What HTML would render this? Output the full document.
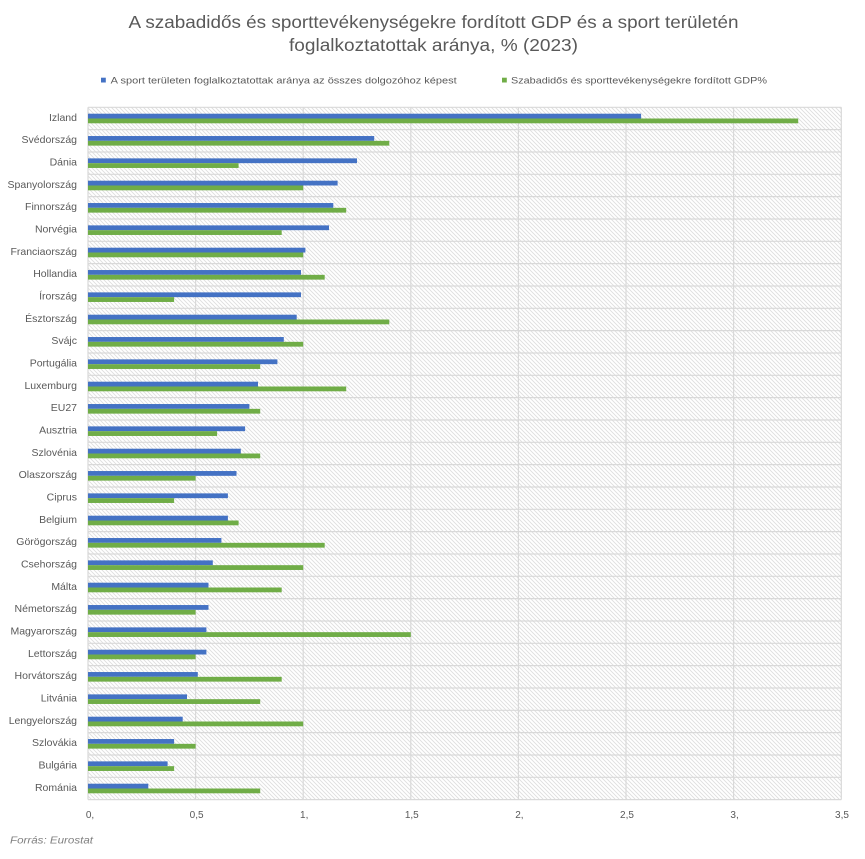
<!DOCTYPE html>
<html>
<head>
<meta charset="utf-8">
<style>
html,body{margin:0;padding:0;background:#fff;}
svg{display:block;}
text{font-family:"Liberation Sans",sans-serif;}
</style>
</head>
<body>
<svg width="865" height="859" viewBox="0 0 865 859" xmlns="http://www.w3.org/2000/svg">
<defs>
<pattern id="hatch" patternUnits="userSpaceOnUse" width="4" height="4">
<path d="M-1,-1 L5,5 M-1,3 L1,5 M3,-1 L5,1" stroke="#dedede" stroke-width="0.9"/>
</pattern>
</defs>
<rect width="865" height="859" fill="#fff"/>
<!-- Title -->
<text x="433.5" y="28" font-size="17.5" fill="#595959" text-anchor="middle" textLength="610" lengthAdjust="spacingAndGlyphs">A szabadidős és sporttevékenységekre fordított GDP és a sport területén</text>
<text x="433.5" y="51" font-size="17.5" fill="#595959" text-anchor="middle" textLength="289" lengthAdjust="spacingAndGlyphs">foglalkoztatottak aránya, % (2023)</text>
<!-- Legend -->
<rect x="101" y="77.7" width="4.8" height="4.8" fill="#4472C4"/>
<text x="110.7" y="83.5" font-size="9.3" fill="#595959" textLength="346" lengthAdjust="spacingAndGlyphs">A sport területen foglalkoztatottak aránya az összes dolgozóhoz képest</text>
<rect x="502" y="77.7" width="4.8" height="4.8" fill="#70AD47"/>
<text x="511" y="83.5" font-size="9.3" fill="#595959" textLength="256" lengthAdjust="spacingAndGlyphs">Szabadidős és sporttevékenységekre fordított GDP%</text>
<!-- Plot background -->
<rect x="88" y="107.3" width="753.3" height="692.3" fill="url(#hatch)"/>
<!-- vertical gridlines -->
<g stroke="#d9d9d9" stroke-width="1.2">
<line x1="88" y1="107.3" x2="88" y2="799.6"/>
<line x1="195.6" y1="107.3" x2="195.6" y2="799.6"/>
<line x1="303.2" y1="107.3" x2="303.2" y2="799.6"/>
<line x1="410.8" y1="107.3" x2="410.8" y2="799.6"/>
<line x1="518.4" y1="107.3" x2="518.4" y2="799.6"/>
<line x1="626" y1="107.3" x2="626" y2="799.6"/>
<line x1="733.6" y1="107.3" x2="733.6" y2="799.6"/>
<line x1="841.3" y1="107.3" x2="841.3" y2="799.6"/>
</g>
<!-- horizontal gridlines -->
<g stroke="#d9d9d9" stroke-width="1.2">
<line x1="88" x2="841.3" y1="107.3" y2="107.3"/>
<line x1="88" x2="841.3" y1="129.63" y2="129.63"/>
<line x1="88" x2="841.3" y1="151.97" y2="151.97"/>
<line x1="88" x2="841.3" y1="174.3" y2="174.3"/>
<line x1="88" x2="841.3" y1="196.63" y2="196.63"/>
<line x1="88" x2="841.3" y1="218.97" y2="218.97"/>
<line x1="88" x2="841.3" y1="241.3" y2="241.3"/>
<line x1="88" x2="841.3" y1="263.63" y2="263.63"/>
<line x1="88" x2="841.3" y1="285.97" y2="285.97"/>
<line x1="88" x2="841.3" y1="308.3" y2="308.3"/>
<line x1="88" x2="841.3" y1="330.63" y2="330.63"/>
<line x1="88" x2="841.3" y1="352.97" y2="352.97"/>
<line x1="88" x2="841.3" y1="375.3" y2="375.3"/>
<line x1="88" x2="841.3" y1="397.63" y2="397.63"/>
<line x1="88" x2="841.3" y1="419.97" y2="419.97"/>
<line x1="88" x2="841.3" y1="442.3" y2="442.3"/>
<line x1="88" x2="841.3" y1="464.63" y2="464.63"/>
<line x1="88" x2="841.3" y1="486.97" y2="486.97"/>
<line x1="88" x2="841.3" y1="509.3" y2="509.3"/>
<line x1="88" x2="841.3" y1="531.63" y2="531.63"/>
<line x1="88" x2="841.3" y1="553.97" y2="553.97"/>
<line x1="88" x2="841.3" y1="576.3" y2="576.3"/>
<line x1="88" x2="841.3" y1="598.63" y2="598.63"/>
<line x1="88" x2="841.3" y1="620.97" y2="620.97"/>
<line x1="88" x2="841.3" y1="643.3" y2="643.3"/>
<line x1="88" x2="841.3" y1="665.63" y2="665.63"/>
<line x1="88" x2="841.3" y1="687.97" y2="687.97"/>
<line x1="88" x2="841.3" y1="710.3" y2="710.3"/>
<line x1="88" x2="841.3" y1="732.63" y2="732.63"/>
<line x1="88" x2="841.3" y1="754.97" y2="754.97"/>
<line x1="88" x2="841.3" y1="777.3" y2="777.3"/>
<line x1="88" x2="841.3" y1="799.6" y2="799.6"/>
</g>
<!-- rows -->
<g font-size="10.5" fill="#595959" text-anchor="end">
<g transform="translate(0,107.3)"><text x="77" y="13.5">Izland</text><rect x="88" y="6.4" width="553.1" height="4.8" fill="#4472C4"/><rect x="88" y="11.2" width="710.2" height="4.8" fill="#70AD47"/></g>
<g transform="translate(0,129.63)"><text x="77" y="13.5">Svédország</text><rect x="88" y="6.4" width="286.2" height="4.8" fill="#4472C4"/><rect x="88" y="11.2" width="301.3" height="4.8" fill="#70AD47"/></g>
<g transform="translate(0,151.97)"><text x="77" y="13.5">Dánia</text><rect x="88" y="6.4" width="269" height="4.8" fill="#4472C4"/><rect x="88" y="11.2" width="150.6" height="4.8" fill="#70AD47"/></g>
<g transform="translate(0,174.3)"><text x="77" y="13.5">Spanyolország</text><rect x="88" y="6.4" width="249.6" height="4.8" fill="#4472C4"/><rect x="88" y="11.2" width="215.2" height="4.8" fill="#70AD47"/></g>
<g transform="translate(0,196.63)"><text x="77" y="13.5">Finnország</text><rect x="88" y="6.4" width="245.3" height="4.8" fill="#4472C4"/><rect x="88" y="11.2" width="258.2" height="4.8" fill="#70AD47"/></g>
<g transform="translate(0,218.97)"><text x="77" y="13.5">Norvégia</text><rect x="88" y="6.4" width="241" height="4.8" fill="#4472C4"/><rect x="88" y="11.2" width="193.7" height="4.8" fill="#70AD47"/></g>
<g transform="translate(0,241.3)"><text x="77" y="13.5">Franciaország</text><rect x="88" y="6.4" width="217.4" height="4.8" fill="#4472C4"/><rect x="88" y="11.2" width="215.2" height="4.8" fill="#70AD47"/></g>
<g transform="translate(0,263.63)"><text x="77" y="13.5">Hollandia</text><rect x="88" y="6.4" width="213" height="4.8" fill="#4472C4"/><rect x="88" y="11.2" width="236.7" height="4.8" fill="#70AD47"/></g>
<g transform="translate(0,285.97)"><text x="77" y="13.5">Írország</text><rect x="88" y="6.4" width="213" height="4.8" fill="#4472C4"/><rect x="88" y="11.2" width="86.1" height="4.8" fill="#70AD47"/></g>
<g transform="translate(0,308.3)"><text x="77" y="13.5">Észtország</text><rect x="88" y="6.4" width="208.7" height="4.8" fill="#4472C4"/><rect x="88" y="11.2" width="301.3" height="4.8" fill="#70AD47"/></g>
<g transform="translate(0,330.63)"><text x="77" y="13.5">Svájc</text><rect x="88" y="6.4" width="195.8" height="4.8" fill="#4472C4"/><rect x="88" y="11.2" width="215.2" height="4.8" fill="#70AD47"/></g>
<g transform="translate(0,352.97)"><text x="77" y="13.5">Portugália</text><rect x="88" y="6.4" width="189.4" height="4.8" fill="#4472C4"/><rect x="88" y="11.2" width="172.2" height="4.8" fill="#70AD47"/></g>
<g transform="translate(0,375.3)"><text x="77" y="13.5">Luxemburg</text><rect x="88" y="6.4" width="170" height="4.8" fill="#4472C4"/><rect x="88" y="11.2" width="258.2" height="4.8" fill="#70AD47"/></g>
<g transform="translate(0,397.63)"><text x="77" y="13.5">EU27</text><rect x="88" y="6.4" width="161.4" height="4.8" fill="#4472C4"/><rect x="88" y="11.2" width="172.2" height="4.8" fill="#70AD47"/></g>
<g transform="translate(0,419.97)"><text x="77" y="13.5">Ausztria</text><rect x="88" y="6.4" width="157.1" height="4.8" fill="#4472C4"/><rect x="88" y="11.2" width="129.1" height="4.8" fill="#70AD47"/></g>
<g transform="translate(0,442.3)"><text x="77" y="13.5">Szlovénia</text><rect x="88" y="6.4" width="152.8" height="4.8" fill="#4472C4"/><rect x="88" y="11.2" width="172.2" height="4.8" fill="#70AD47"/></g>
<g transform="translate(0,464.63)"><text x="77" y="13.5">Olaszország</text><rect x="88" y="6.4" width="148.5" height="4.8" fill="#4472C4"/><rect x="88" y="11.2" width="107.6" height="4.8" fill="#70AD47"/></g>
<g transform="translate(0,486.97)"><text x="77" y="13.5">Ciprus</text><rect x="88" y="6.4" width="139.9" height="4.8" fill="#4472C4"/><rect x="88" y="11.2" width="86.1" height="4.8" fill="#70AD47"/></g>
<g transform="translate(0,509.3)"><text x="77" y="13.5">Belgium</text><rect x="88" y="6.4" width="139.9" height="4.8" fill="#4472C4"/><rect x="88" y="11.2" width="150.6" height="4.8" fill="#70AD47"/></g>
<g transform="translate(0,531.63)"><text x="77" y="13.5">Görögország</text><rect x="88" y="6.4" width="133.4" height="4.8" fill="#4472C4"/><rect x="88" y="11.2" width="236.7" height="4.8" fill="#70AD47"/></g>
<g transform="translate(0,553.97)"><text x="77" y="13.5">Csehország</text><rect x="88" y="6.4" width="124.8" height="4.8" fill="#4472C4"/><rect x="88" y="11.2" width="215.2" height="4.8" fill="#70AD47"/></g>
<g transform="translate(0,576.3)"><text x="77" y="13.5">Málta</text><rect x="88" y="6.4" width="120.5" height="4.8" fill="#4472C4"/><rect x="88" y="11.2" width="193.7" height="4.8" fill="#70AD47"/></g>
<g transform="translate(0,598.63)"><text x="77" y="13.5">Németország</text><rect x="88" y="6.4" width="120.5" height="4.8" fill="#4472C4"/><rect x="88" y="11.2" width="107.6" height="4.8" fill="#70AD47"/></g>
<g transform="translate(0,620.97)"><text x="77" y="13.5">Magyarország</text><rect x="88" y="6.4" width="118.4" height="4.8" fill="#4472C4"/><rect x="88" y="11.2" width="322.8" height="4.8" fill="#70AD47"/></g>
<g transform="translate(0,643.3)"><text x="77" y="13.5">Lettország</text><rect x="88" y="6.4" width="118.4" height="4.8" fill="#4472C4"/><rect x="88" y="11.2" width="107.6" height="4.8" fill="#70AD47"/></g>
<g transform="translate(0,665.63)"><text x="77" y="13.5">Horvátország</text><rect x="88" y="6.4" width="109.8" height="4.8" fill="#4472C4"/><rect x="88" y="11.2" width="193.7" height="4.8" fill="#70AD47"/></g>
<g transform="translate(0,687.97)"><text x="77" y="13.5">Litvánia</text><rect x="88" y="6.4" width="99" height="4.8" fill="#4472C4"/><rect x="88" y="11.2" width="172.2" height="4.8" fill="#70AD47"/></g>
<g transform="translate(0,710.3)"><text x="77" y="13.5">Lengyelország</text><rect x="88" y="6.4" width="94.7" height="4.8" fill="#4472C4"/><rect x="88" y="11.2" width="215.2" height="4.8" fill="#70AD47"/></g>
<g transform="translate(0,732.63)"><text x="77" y="13.5">Szlovákia</text><rect x="88" y="6.4" width="86.1" height="4.8" fill="#4472C4"/><rect x="88" y="11.2" width="107.6" height="4.8" fill="#70AD47"/></g>
<g transform="translate(0,754.97)"><text x="77" y="13.5">Bulgária</text><rect x="88" y="6.4" width="79.6" height="4.8" fill="#4472C4"/><rect x="88" y="11.2" width="86.1" height="4.8" fill="#70AD47"/></g>
<g transform="translate(0,777.3)"><text x="77" y="13.5">Románia</text><rect x="88" y="6.4" width="60.3" height="4.8" fill="#4472C4"/><rect x="88" y="11.2" width="172.2" height="4.8" fill="#70AD47"/></g>
</g>
<!-- x-axis tick labels -->
<g font-size="10" fill="#595959" text-anchor="middle">
<text x="90" y="818">0,</text>
<text x="196.6" y="818">0,5</text>
<text x="304.2" y="818">1,</text>
<text x="411.8" y="818">1,5</text>
<text x="519.4" y="818">2,</text>
<text x="627" y="818">2,5</text>
<text x="734.6" y="818">3,</text>
<text x="842" y="818">3,5</text>
</g>
<!-- source -->
<text x="10" y="843.5" font-size="10" font-style="italic" fill="#7f7f7f" textLength="83" lengthAdjust="spacingAndGlyphs">Forrás: Eurostat</text>
</svg>
</body>
</html>
